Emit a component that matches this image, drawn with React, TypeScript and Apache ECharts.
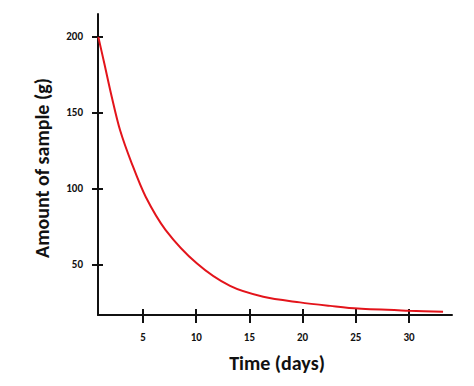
import React, { useEffect, useRef } from "react";
import * as echarts from "echarts";

// Values
const timeDays = [0.8, 1.36, 2.06, 2.84, 3.94, 5.25, 7.13, 10.05, 13.18, 16.3, 19.75, 22.6, 25.2, 30.0, 33.2];
const amountGrams = [200, 182.7, 160.7, 138.8, 116.9, 94.9, 73.0, 51.1, 36.2, 29.1, 25.4, 23.1, 21.3, 19.9, 19.3];
const xTicks = [5, 10, 15, 20, 25, 30];
const yTicks = [50, 100, 150, 200];
const xRange = [0.77, 34.04];
const yRange = [17.1, 215.1];
const xTitle = "Time (days)";
const yTitle = "Amount of sample (g)";

const FONT = "Carlito, Calibri, Lato, sans-serif";

export default function App() {
  const ref = useRef<HTMLDivElement>(null);
  useEffect(() => {
    document.body.style.margin = "0";
    if (!ref.current) return;
    const chart = echarts.init(ref.current, null, { renderer: "svg" });
    const axisLineStyle = { color: "#111", width: 2 };
    const tickStyle = { color: "#111", width: 2 };
    const seriesData = timeDays.map((t, i) => [t, amountGrams[i]]);
    chart.setOption({
      animation: false,
      backgroundColor: "#fff",
      grid: { left: 98, right: 22, top: 14, bottom: 71, containLabel: false },
      graphic: [
        {
          type: "text",
          x: 42,
          y: 168,
          rotation: Math.PI / 2,
          style: {
            text: yTitle,
            fontFamily: FONT,
            fontWeight: "bold",
            fontSize: 20,
            fill: "#111",
            align: "center",
            verticalAlign: "middle",
          },
        },
      ],
      xAxis: [
        {
          type: "value",
          min: xRange[0],
          max: xRange[1],
          position: "bottom",
          name: xTitle,
          nameLocation: "middle",
          nameGap: 38,
          nameTextStyle: { fontFamily: FONT, fontWeight: "bold", fontSize: 20, color: "#111", padding: [0, 0, 0, 4] },
          splitLine: { show: false },
          axisLine: { show: true, onZero: false, lineStyle: axisLineStyle },
          axisTick: { show: true, inside: false, length: 8, lineStyle: tickStyle, customValues: xTicks },
          axisLabel: { show: true, margin: 17, fontFamily: FONT, fontWeight: "bold", fontSize: 11, color: "#111", customValues: xTicks },
        },
        {
          type: "value",
          min: xRange[0],
          max: xRange[1],
          position: "bottom",
          splitLine: { show: false },
          axisLine: { show: false, onZero: false },
          axisTick: { show: true, inside: true, length: 6, lineStyle: tickStyle, customValues: xTicks },
          axisLabel: { show: false },
        },
      ],
      yAxis: [
        {
          type: "value",
          min: yRange[0],
          max: yRange[1],
          position: "left",
          splitLine: { show: false },
          axisLine: { show: true, onZero: false, lineStyle: axisLineStyle },
          axisTick: { show: true, inside: false, length: 6, lineStyle: tickStyle, customValues: yTicks },
          axisLabel: { show: true, margin: 15, fontFamily: FONT, fontWeight: "bold", fontSize: 11, color: "#111", customValues: yTicks },
        },
        {
          type: "value",
          min: yRange[0],
          max: yRange[1],
          position: "left",
          splitLine: { show: false },
          axisLine: { show: false, onZero: false },
          axisTick: { show: true, inside: true, length: 5, lineStyle: tickStyle, customValues: yTicks },
          axisLabel: { show: false },
        },
      ],
      series: [
        {
          type: "line",
          xAxisIndex: 0,
          yAxisIndex: 0,
          data: seriesData,
          smooth: 0.3,
          showSymbol: false,
          symbol: "none",
          lineStyle: { color: "#e3141b", width: 2 },
        },
      ],
    });
    return () => chart.dispose();
  }, []);
  return <div ref={ref} style={{ width: 474, height: 386 }} />;
}
